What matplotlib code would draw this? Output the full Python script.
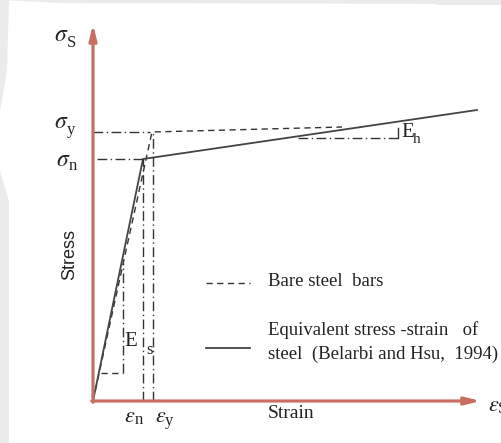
import matplotlib
matplotlib.use("Agg")
import matplotlib.pyplot as plt
from matplotlib.patches import Polygon

plt.rcParams['mathtext.fontset'] = 'stix'

# Key points of the idealised stress-strain diagrams (strain, stress)
eps_n, sig_n = 50, 242
eps_y, sig_y = 59, 269
bare_strain = [0, eps_y, 249]
bare_stress = [0, sig_y, 274]
equiv_strain = [0, eps_n, 384]
equiv_stress = [0, sig_n, 291]

# Slope markers for E_s and E_h
es_x, es_y0, es_y1, es_xl = 30, 28, 138, 8
eh_y, eh_x0, eh_x1, eh_tick = 263, 205, 305, 273

x_label = "Strain"
y_label = "Stress"
legend_labels = ["Bare steel  bars",
                 "Equivalent stress -strain   of",
                 "steel  (Belarbi and Hsu,  1994)"]

W, H = 502, 443
fig = plt.figure(figsize=(W / 100, H / 100), dpi=100)
ax = fig.add_axes([0, 0, 1, 1])
ax.set_xlim(-93, W - 93)
ax.set_ylim(401 - H, 401)
ax.axis('off')

# faint background shapes
grey = '#ebebeb'
for pts in ([(-93, 401), (409, 401), (409, 397), (-30, 398)],
            [(-93, 401), (-84, 401), (-86, 330), (-93, 290)],
            [(-93, 230), (-84, 200), (-84, -42), (-93, -42)],
            [(330, 401), (409, 401), (409, 396), (345, 396)]):
    ax.add_patch(Polygon(pts, closed=True, color=grey, lw=0, zorder=0))

axis_color = '#c87060'
arrow = dict(arrowstyle='-|>,head_length=0.9,head_width=0.22', lw=2.3,
             color=axis_color, shrinkA=0, shrinkB=0)
ax.annotate('', xy=(0, 377), xytext=(0, -1.2), arrowprops=arrow)
ax.annotate('', xy=(388, 0), xytext=(-1.2, 0), arrowprops=arrow)

dash = (0, (4.5, 3.2))
dashdot = (0, (7, 2.5, 1, 2.5))
lc = '#333333'

# curves
ax.plot(bare_strain, bare_stress, color=lc, lw=1.0, linestyle=dash)
ax.plot(equiv_strain, equiv_stress, color='#444444', lw=1.3)

# reference lines
ax.plot([0, eps_y - 2], [sig_y, sig_y], color=lc, lw=1.0, linestyle=dashdot)
ax.plot([4, eps_n], [sig_n, sig_n], color=lc, lw=1.0, linestyle=dashdot)
ax.plot([eps_n, eps_n], [0, sig_n], color=lc, lw=1.0, linestyle=dashdot)
ax.plot([eps_y + 1, eps_y + 1], [0, sig_y], color=lc, lw=1.0, linestyle=dashdot)

# slope markers
ax.plot([es_x, es_x], [es_y0, es_y1], color=lc, lw=1.0, linestyle=dashdot)
ax.plot([es_xl, es_x], [es_y0, es_y0], color=lc, lw=1.0, linestyle=dash)
ax.plot([eh_x0, eh_x1], [eh_y, eh_y], color=lc, lw=1.0, linestyle=dashdot)
ax.plot([eh_x1, eh_x1], [eh_y, eh_tick], color=lc, lw=1.0)

tc = '#222222'
serif = ['Liberation Serif', 'Noto Sans CJK SC']


def symbol(x, y, main, sub, sx, sy, size=17, subsize=12):
    """Italic Greek symbol with an upright subscript placed beside it."""
    ax.text(x, y, main, ha='left', va='center', fontsize=size, color=tc)
    ax.text(sx, sy, sub, ha='left', va='center', fontsize=subsize,
            family=serif, color=tc)


symbol(-39, 367, r'$\sigma$', 'S', -26, 358)
symbol(-39, 280, r'$\sigma$', 'y', -26, 271)
symbol(-37, 242, r'$\sigma$', 'n', -24, 235)
symbol(31, -15, r'$\varepsilon$', 'n', 42, -19, size=16)
symbol(62, -15, r'$\varepsilon$', 'y', 72, -20, size=16)
symbol(395, -4, r'$\varepsilon$', 'S', 405, -8, size=16)

ax.text(eh_x1 + 3, 269, 'E', ha='left', va='center', fontsize=15,
        family=serif, color=tc)
ax.text(eh_x1 + 15, 262, 'h', ha='left', va='center', fontsize=11,
        family=serif, color=tc)
ax.text(es_x + 1, 60, 'E', ha='left', va='center', fontsize=15,
        family=serif, color=tc)
ax.text(eps_n + 3, 51, 's', ha='left', va='center', fontsize=12,
        family=serif, color=tc)

ax.text(-23, 146, y_label, rotation=90, ha='center', va='center',
        fontsize=13, family='Liberation Sans', color=tc)
ax.text(175, -12, x_label, ha='left', va='center', fontsize=14,
        family=serif, color=tc)

# legend
ax.plot([113, 157], [118, 118], color=lc, lw=1.0, linestyle=dash)
ax.plot([113, 157], [53, 53], color='#444444', lw=1.3)
for yy, label in zip([120, 71, 47], legend_labels):
    ax.text(175, yy, label, ha='left', va='center', fontsize=13.5,
            family=serif, color=tc)

fig.savefig('out.png', dpi=100)
